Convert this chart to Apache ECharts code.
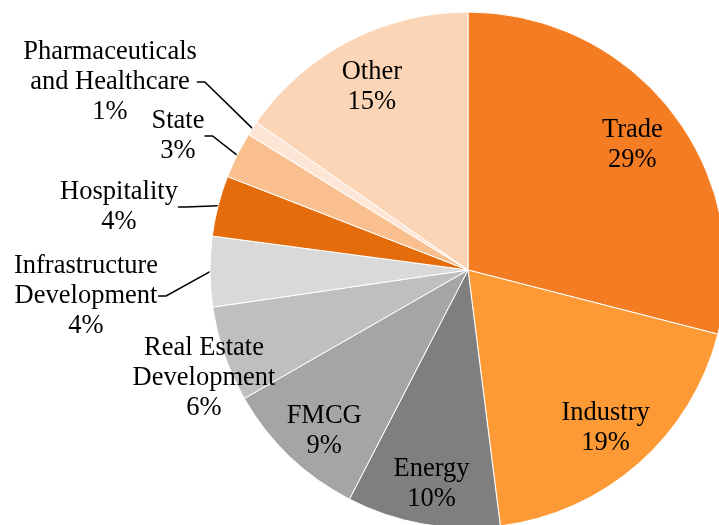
<!DOCTYPE html>
<html>
<head>
<meta charset="utf-8">
<script src="https://cdn.jsdelivr.net/npm/echarts@6/dist/echarts.min.js"></script>
<style>
  html, body { margin: 0; padding: 0; background: #fff; }
  #chart { width: 719px; height: 525px; }
</style>
</head>
<body>
<div id="chart"></div>
<script>
// slices, clockwise from 12 o'clock
const sectors = [
  "Trade", "Industry", "Energy", "FMCG", "Real Estate\nDevelopment",
  "Infrastructure\nDevelopment", "Hospitality", "State",
  "Pharmaceuticals\nand Healthcare", "Other"
];
const shares = [29.0, 19.0, 9.6, 9.1, 6.0, 4.4, 3.8, 2.9, 0.9, 15.3];
const colors = [
  "#F47C22", "#FE9A36", "#7F7F7F", "#A5A5A5", "#BFBFBF",
  "#D9D9D9", "#E46C0A", "#F9BF8F", "#FDE6D6", "#FBD5B5"
];
// which labels sit outside the pie with a leader line
const outside = [false, false, false, false, true, true, true, true, true, false];

// where the outside labels go (label centre)
const labelSpots = {
  4: [204, 378],
  5: [86, 296],
  6: [119, 207],
  7: [178, 136],
  8: [110, 82]
};
// small nudges for the inside labels
const insideNudge = { 0: [0, 3], 1: [0, 2], 2: [0, 9], 3: [0, 11], 9: [0, 1] };

const chart = echarts.init(document.getElementById("chart"));

const font = {
  fontFamily: "Liberation Serif",
  fontSize: 26.5,
  lineHeight: 30,
  color: "#000"
};
const fmt = (p) => p.name + "\n" + Math.round(p.percent) + "%";

const pieData = sectors.map((name, i) => ({
  name: name,
  value: shares[i],
  itemStyle: { color: colors[i] },
  label: { show: outside[i] },
  labelLine: { show: outside[i] && i !== 4 }
}));

const labelData = sectors.map((name, i) => ({
  name: name,
  value: shares[i],
  label: { show: !outside[i], offset: insideNudge[i] || [0, 0] }
}));

const option = {
  animation: false,
  series: [
    {
      type: "pie",
      center: [468, 270],
      radius: [0, 258],
      startAngle: 90,
      clockwise: true,
      avoidLabelOverlap: false,
      itemStyle: { borderColor: "#fff", borderWidth: 1 },
      label: Object.assign({ position: "outside", formatter: fmt }, font),
      labelLine: {
        length: 10,
        length2: 8,
        smooth: false,
        lineStyle: { color: "#000", width: 1.5 }
      },
      labelLayout: function (params) {
        const spot = labelSpots[params.dataIndex];
        if (!spot) return {};
        return { x: spot[0], y: spot[1], align: "center", verticalAlign: "middle" };
      },
      emphasis: { disabled: true },
      data: pieData
    },
    {
      // transparent ring, only used to carry the inside labels
      type: "pie",
      center: [468, 270],
      radius: [152, 258],
      startAngle: 90,
      clockwise: true,
      silent: true,
      itemStyle: { color: "rgba(0,0,0,0)", borderWidth: 0 },
      label: Object.assign({ position: "inside", formatter: fmt }, font),
      labelLine: { show: false },
      emphasis: { disabled: true },
      data: labelData
    }
  ]
};

option && chart.setOption(option);
</script>
</body>
</html>
